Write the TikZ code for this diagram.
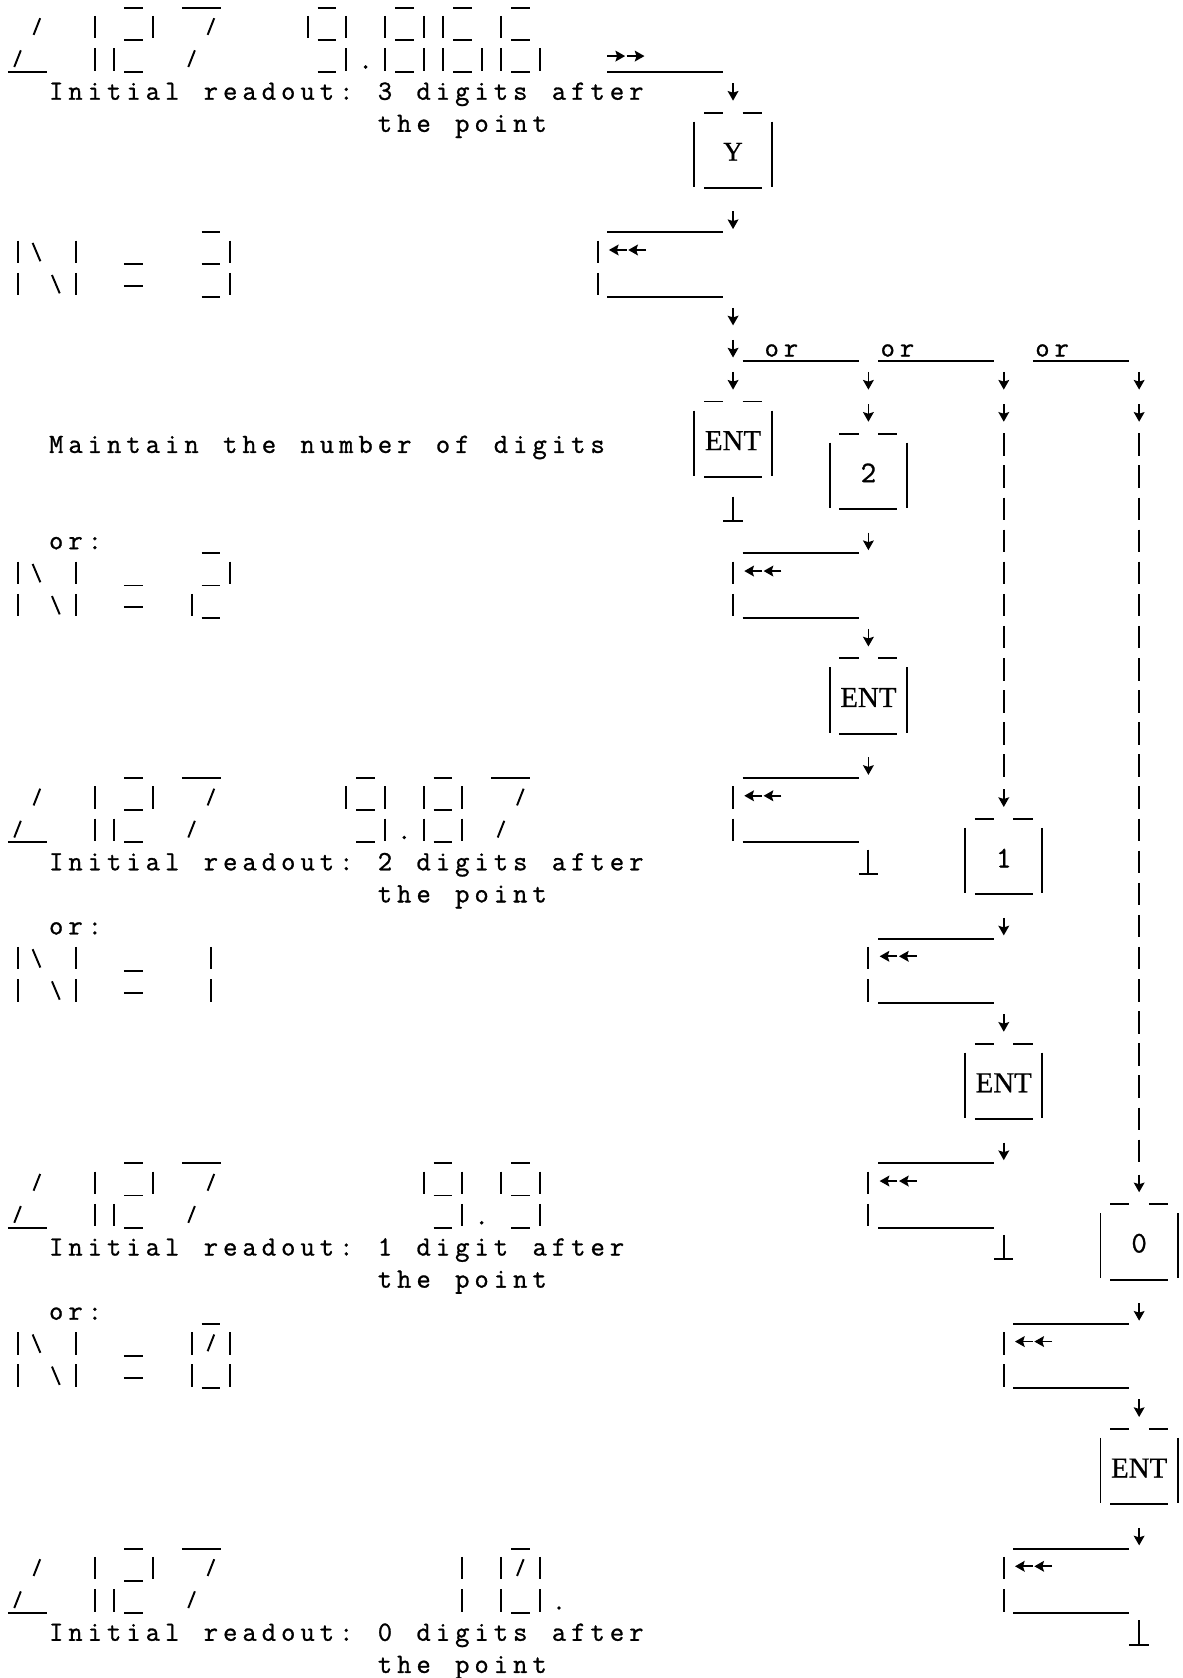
\documentclass[tikz,border=0pt]{standalone}
\usepackage{fontspec}
\newfontfamily\keyfont[FakeBold=0.6]{Liberation Serif}
\newfontfamily\typew[FakeBold=1.0]{Latin Modern Mono}
\usetikzlibrary{arrows.meta}
\newlength\twcell
\setlength\twcell{18.07pt}
\makeatletter
\def\tw@end{\tw@end@}
\newcommand\tw[1]{\tw@loop#1\tw@end}
\def\tw@loop#1{\ifx#1\tw@end\else\makebox[\twcell][c]{#1}\expandafter\tw@loop\fi}
\makeatother
% glyph primitives on the typewriter grid (col, row)
\newcommand\VB[2]{\draw[seg] (#1,#2-0.37) -- (#1,#2+0.33);}
\newcommand\UB[2]{\draw[seg] (#1-0.48,#2+0.37) -- (#1+0.48,#2+0.37);}
\newcommand\UR[3]{\draw[seg] (#1-0.5,#3+0.37) -- (#2+0.5,#3+0.37);}
\newcommand\SL[2]{\draw[seg] (#1-0.17,#2+0.22) -- (#1+0.17,#2-0.3);}
\newcommand\BS[2]{\draw[seg] (#1-0.22,#2-0.3) -- (#1+0.18,#2+0.27);}
\newcommand\DA[2]{\draw[arr] (#1,#2-0.28) -- (#1,#2+0.27);}
\newcommand\LA[2]{\draw[arr] (#1+0.5,#2-0.08) -- (#1-0.42,#2-0.08);}
\newcommand\RA[2]{\draw[arr] (#1-0.5,#2-0.12) -- (#1+0.42,#2-0.12);}
\newcommand\DOT[2]{\fill (#1,#2+0.22) circle[radius=1.8pt];}
\newcommand\UT[2]{\draw[seg] (#1,#2-0.4) -- (#1,#2+0.36); \draw[seg] (#1-0.5,#2+0.36) -- (#1+0.5,#2+0.36);}
% seven-segment digits: left column, upper row
\newcommand\Dnine[2]{\UB{#1+1}{#2-1}\VB{#1}{#2}\UB{#1+1}{#2}\VB{#1+2}{#2}\UB{#1+1}{#2+1}\VB{#1+2}{#2+1}}
\newcommand\Deight[2]{\UB{#1+1}{#2-1}\VB{#1}{#2}\UB{#1+1}{#2}\VB{#1+2}{#2}\VB{#1}{#2+1}\UB{#1+1}{#2+1}\VB{#1+2}{#2+1}}
\newcommand\Dsix[2]{\UB{#1+1}{#2-1}\VB{#1}{#2}\UB{#1+1}{#2}\VB{#1}{#2+1}\UB{#1+1}{#2+1}\VB{#1+2}{#2+1}}
\newcommand\Dseven[2]{\UR{#1+1}{#1+2}{#2-1}\SL{#1+2}{#2}\SL{#1+1}{#2+1}}
\newcommand\Dzero[2]{\UB{#1+1}{#2-1}\VB{#1}{#2}\SL{#1+1}{#2}\VB{#1+2}{#2}\VB{#1}{#2+1}\UB{#1+1}{#2+1}\VB{#1+2}{#2+1}}
\newcommand\LeftDisp[1]{\SL{1}{#1}\SL{0}{#1+1}\UR{0}{1}{#1+1}
  \VB{4}{#1}\VB{4}{#1+1}
  \UB{6}{#1-1}\UB{6}{#1}\VB{7}{#1}\VB{5}{#1+1}\UB{6}{#1+1}
  \Dseven{8}{#1}}
\newcommand\Nchar[1]{\VB{0}{#1}\BS{1}{#1}\VB{3}{#1}\VB{0}{#1+1}\BS{2}{#1+1}\VB{3}{#1+1}
  \draw[seg] (5.5,#1+0.37) -- (6.5,#1+0.37); \draw[seg] (5.5,#1+1.05) -- (6.5,#1+1.05);}
\newcommand\Ret[2]{\UR{#1-6}{#1-1}{#2}
  \VB{#1-7}{#2+1}\LA{#1-6}{#2+1}\LA{#1-5}{#2+1}
  \VB{#1-7}{#2+2}\UR{#1-6}{#1-1}{#2+2}}
\newcommand\Key[4]{%
  \draw[seg] (#2-1.5,#3+0.64) -- (#2-0.5,#3+0.64);
  \draw[seg] (#2+0.5,#3+0.64) -- (#2+1.5,#3+0.64);
  \draw[seg] (#2-2,#3+0.92) -- (#2-2,#3+2.95);
  \draw[seg] (#2+2,#3+0.92) -- (#2+2,#3+2.95);
  \draw[seg] (#2-1.5,#3+2.99) -- (#2+1.5,#3+2.99);
  \node[keylbl] (#1) at (#2,#3+1.86) {#4};}
\newcommand\Txt[4]{\node[mono] (#1) at (#2-0.5,#3+0.24) {\tw{#4}};}
\newcommand\entlbl{\keyfont\fontsize{27pt}{27pt}\selectfont ENT}
\newcommand\diglbl[1]{\typew\fontsize{28pt}{28pt}\selectfont #1}
\begin{document}
\begin{tikzpicture}[x=18.07pt,y=-30pt,
  seg/.style={line width=1.8pt},
  arr/.style={line width=1.7pt,-{Stealth[length=9pt,width=10pt,inset=1.5pt]}},
  mono/.style={inner sep=0pt,outer sep=0pt,anchor=base west,font=\typew\fontsize{26pt}{26pt}\selectfont},
  keylbl/.style={inner sep=0pt}]
\fill[white] (-0.90758,0.13333) rectangle (60.2435,52.4);
\useasboundingbox (-0.90758,0.13333) rectangle (60.2435,52.4);
% ---------- left column ----------
\LeftDisp{1}
\Dnine{15}{1}\DOT{18}{2}\Deight{19}{1}\Dsix{22}{1}\Dsix{25}{1}
\Txt{t3a}{2}{3}{Initial~readout:~3~digits~after}
\Txt{t3b}{19}{4}{the~point}
\Nchar{8}
\UB{10}{7}\UB{10}{8}\VB{11}{8}\UB{10}{9}\VB{11}{9}
\Txt{tm}{2}{14}{Maintain~the~number~of~digits}
\Txt{or1}{2}{17}{or:}
\Nchar{18}
\UB{10}{17}\UB{10}{18}\VB{11}{18}\VB{9}{19}\UB{10}{19}
\LeftDisp{25}
\Dnine{17}{25}\DOT{20}{26}\Deight{21}{25}\Dseven{24}{25}
\Txt{t2a}{2}{27}{Initial~readout:~2~digits~after}
\Txt{t2b}{19}{28}{the~point}
\Txt{or2}{2}{29}{or:}
\Nchar{30}
\VB{10}{30}\VB{10}{31}
\LeftDisp{37}
\Dnine{21}{37}\DOT{24}{38}\Dnine{25}{37}
\Txt{t1a}{2}{39}{Initial~readout:~1~digit~after}
\Txt{t1b}{19}{40}{the~point}
\Txt{or3}{2}{41}{or:}
\Nchar{42}
\Dzero{9}{42}
\LeftDisp{49}
\VB{23}{49}\VB{23}{50}\Dzero{25}{49}\DOT{28}{50}
\Txt{t0a}{2}{51}{Initial~readout:~0~digits~after}
\Txt{t0b}{19}{52}{the~point}
% ---------- right column ----------
\RA{31}{2}\RA{32}{2}\UR{31}{36}{2}
\DA{37}{3}
\Key{kY}{37}{3}{\keyfont\fontsize{25pt}{25pt}\selectfont Y}
\DA{37}{7}\Ret{37}{7}
\DA{37}{10}
\DA{37}{11}
\UR{38}{43}{11}\Txt{orA}{39}{11}{or}
\UR{45}{50}{11}\Txt{orB}{45}{11}{or}
\UR{53}{57}{11}\Txt{orC}{53}{11}{or}
\DA{37}{12}\DA{44}{12}\DA{51}{12}\DA{58}{12}
\DA{44}{13}\DA{51}{13}\DA{58}{13}
\Key{kE1}{37}{12}{\entlbl}
\UT{37}{16}
\Key{k2}{44}{13}{\diglbl{2}}
\DA{44}{17}\Ret{44}{17}
\DA{44}{20}
\Key{kE2}{44}{20}{\entlbl}
\DA{44}{24}\Ret{44}{24}
\UT{44}{27}
\foreach \k in {14,...,24} {\VB{51}{\k}}
\DA{51}{25}
\Key{k1}{51}{25}{\diglbl{1}}
\DA{51}{29}\Ret{51}{29}
\DA{51}{32}
\Key{kE3}{51}{32}{\entlbl}
\DA{51}{36}\Ret{51}{36}
\UT{51}{39}
\foreach \k in {14,...,36} {\VB{58}{\k}}
\DA{58}{37}
\Key{k0}{58}{37}{\diglbl{0}}
\DA{58}{41}\Ret{58}{41}
\DA{58}{44}
\Key{kE4}{58}{44}{\entlbl}
\DA{58}{48}\Ret{58}{48}
\UT{58}{51}
\end{tikzpicture}
\end{document}
